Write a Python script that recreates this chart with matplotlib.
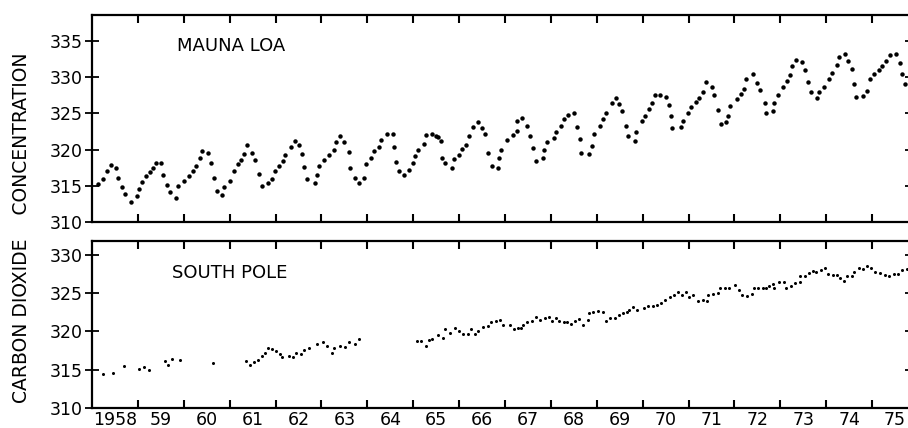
import matplotlib
matplotlib.use("Agg")
import matplotlib.pyplot as plt

plt.rcParams['font.family'] = ['DejaVu Sans']

# Mauna Loa monthly CO2 (decimal year, ppm)
ml_year = [
    1958.14, 1958.23, 1958.33, 1958.41, 1958.52, 1958.56, 1958.66, 1958.73, 1958.86, 1958.99,
    1959.02, 1959.09, 1959.17, 1959.26, 1959.34, 1959.39, 1959.50, 1959.55, 1959.63, 1959.71,
    1959.83, 1959.88, 1960.01, 1960.11, 1960.20, 1960.27, 1960.35, 1960.40, 1960.52, 1960.59,
    1960.66, 1960.72, 1960.83, 1960.88, 1961.01, 1961.09, 1961.18, 1961.25, 1961.31, 1961.38,
    1961.49, 1961.55, 1961.63, 1961.71, 1961.83, 1961.92, 1961.98, 1962.07, 1962.17, 1962.20,
    1962.33, 1962.42, 1962.51, 1962.58, 1962.63, 1962.69, 1962.85, 1962.90, 1962.95, 1963.06,
    1963.16, 1963.27, 1963.32, 1963.41, 1963.50, 1963.61, 1963.63, 1963.74, 1963.82, 1963.93,
    1963.98, 1964.07, 1964.14, 1964.26, 1964.30, 1964.43, 1964.55, 1964.59, 1964.63, 1964.69,
    1964.81, 1964.91, 1964.99, 1965.04, 1965.10, 1965.23, 1965.28, 1965.41, 1965.50, 1965.53,
    1965.60, 1965.62, 1965.69, 1965.84, 1965.88, 1965.99, 1966.07, 1966.14, 1966.22, 1966.30,
    1966.41, 1966.51, 1966.56, 1966.62, 1966.72, 1966.85, 1966.88, 1966.92, 1967.04, 1967.17,
    1967.26, 1967.27, 1967.38, 1967.48, 1967.55, 1967.61, 1967.68, 1967.82, 1967.85, 1967.92,
    1968.07, 1968.11, 1968.23, 1968.29, 1968.37, 1968.50, 1968.57, 1968.64, 1968.66, 1968.84,
    1968.89, 1968.93, 1969.06, 1969.13, 1969.21, 1969.33, 1969.41, 1969.49, 1969.54, 1969.64,
    1969.67, 1969.83, 1969.86, 1969.99, 1970.06, 1970.13, 1970.21, 1970.26, 1970.38, 1970.50,
    1970.57, 1970.61, 1970.65, 1970.83, 1970.89, 1970.99, 1971.06, 1971.16, 1971.23, 1971.32,
    1971.38, 1971.51, 1971.55, 1971.65, 1971.71, 1971.82, 1971.87, 1971.90, 1972.06, 1972.14,
    1972.20, 1972.25, 1972.40, 1972.49, 1972.56, 1972.66, 1972.68, 1972.83, 1972.86, 1972.94,
    1973.06, 1973.15, 1973.22, 1973.25, 1973.34, 1973.48, 1973.54, 1973.60, 1973.67, 1973.79,
    1973.85, 1973.96, 1974.06, 1974.13, 1974.23, 1974.28, 1974.40, 1974.48, 1974.57, 1974.61,
    1974.66, 1974.80, 1974.88, 1974.96, 1975.05, 1975.14, 1975.22, 1975.30, 1975.38, 1975.53,
    1975.60, 1975.66, 1975.72,
]
ml_co2 = [
    315.3, 316.0, 317.0, 317.9, 317.4, 316.1, 314.9, 313.9, 312.8, 313.6,
    314.6, 315.5, 316.3, 316.9, 317.5, 318.2, 318.2, 316.5, 315.1, 314.2,
    313.3, 315.0, 315.7, 316.3, 317.0, 317.7, 318.8, 319.8, 319.5, 318.1,
    316.1, 314.3, 313.7, 314.9, 315.6, 317.1, 318.0, 318.6, 319.4, 320.6,
    319.5, 318.6, 316.6, 315.0, 315.4, 316.0, 317.0, 317.8, 318.4, 319.3,
    320.4, 321.2, 320.6, 319.4, 317.6, 315.9, 315.4, 316.5, 317.7, 318.5,
    319.2, 320.0, 321.0, 321.9, 321.1, 319.7, 317.5, 316.1, 315.4, 316.1,
    318.0, 318.9, 319.8, 320.3, 321.3, 322.1, 322.2, 320.3, 318.3, 317.1,
    316.5, 317.2, 318.1, 319.1, 320.0, 320.8, 322.0, 322.2, 321.9, 321.7,
    321.2, 318.9, 318.1, 317.5, 318.7, 319.3, 320.1, 320.7, 321.9, 323.1,
    323.8, 323.0, 322.2, 319.5, 317.7, 317.4, 318.8, 320.0, 321.3, 322.0,
    322.6, 323.9, 324.4, 323.2, 321.9, 320.2, 318.4, 318.8, 320.0, 321.1,
    321.6, 322.5, 323.3, 324.2, 324.8, 325.0, 323.1, 321.4, 319.6, 319.4,
    320.5, 322.1, 323.2, 324.3, 325.1, 326.4, 327.2, 326.3, 325.3, 323.2,
    321.9, 321.2, 322.4, 323.9, 324.7, 325.6, 326.5, 327.6, 327.6, 327.3,
    326.2, 324.7, 323.0, 323.1, 324.0, 325.0, 325.9, 326.6, 327.2, 327.9,
    329.3, 328.6, 327.6, 325.5, 323.6, 323.8, 324.7, 326.0, 327.0, 327.7,
    328.4, 329.8, 330.5, 329.2, 328.3, 326.4, 325.0, 325.4, 326.4, 327.6,
    328.6, 329.5, 330.3, 331.5, 332.4, 332.1, 331.0, 329.3, 328.0, 327.1,
    328.0, 328.7, 329.7, 330.6, 331.7, 332.8, 333.2, 332.3, 331.2, 329.1,
    327.3, 327.4, 328.1, 329.8, 330.4, 331.0, 331.5, 332.3, 333.1, 333.2,
    332.0, 330.5, 329.0,
]

# South Pole CO2 (decimal year, ppm)
sp_year = [
    1958.23, 1958.46, 1958.69, 1959.02, 1959.14, 1959.24, 1959.58, 1959.65, 1959.74, 1959.91,
    1960.64, 1961.36, 1961.44, 1961.52, 1961.61, 1961.70, 1961.78, 1961.84, 1961.93, 1962.00,
    1962.10, 1962.15, 1962.29, 1962.39, 1962.45, 1962.55, 1962.61, 1962.72, 1962.91, 1963.04,
    1963.12, 1963.22, 1963.28, 1963.40, 1963.51, 1963.60, 1963.73, 1963.81,
    1965.08, 1965.18, 1965.28, 1965.35, 1965.42, 1965.54, 1965.64, 1965.69, 1965.80, 1965.92,
    1965.99, 1966.08, 1966.19, 1966.27, 1966.35, 1966.42, 1966.52, 1966.62, 1966.70, 1966.80,
    1966.89, 1966.96, 1967.10, 1967.19, 1967.28, 1967.34, 1967.40, 1967.49, 1967.59, 1967.67,
    1967.76, 1967.87, 1967.96, 1968.03, 1968.12, 1968.18, 1968.29, 1968.36, 1968.44, 1968.53,
    1968.61, 1968.69, 1968.80, 1968.83, 1968.91, 1969.03, 1969.13, 1969.20, 1969.29, 1969.39,
    1969.49, 1969.57, 1969.65, 1969.70, 1969.78, 1969.87, 1970.02, 1970.12, 1970.23, 1970.31,
    1970.41, 1970.49, 1970.60, 1970.69, 1970.78, 1970.85, 1970.94, 1971.02, 1971.09, 1971.20,
    1971.31, 1971.41, 1971.43, 1971.54, 1971.65, 1971.69, 1971.80, 1971.89, 1972.01, 1972.09,
    1972.16, 1972.27, 1972.38, 1972.43, 1972.52, 1972.62, 1972.69, 1972.76, 1972.85, 1972.86,
    1972.98, 1973.08, 1973.13, 1973.23, 1973.32, 1973.42, 1973.43, 1973.54, 1973.63, 1973.71,
    1973.78, 1973.88, 1973.98, 1974.05, 1974.14, 1974.24, 1974.30, 1974.39, 1974.45, 1974.56,
    1974.61, 1974.72, 1974.80, 1974.88, 1974.97, 1975.07, 1975.18, 1975.28, 1975.37, 1975.47,
    1975.57, 1975.66, 1975.77,
]
sp_co2 = [
    314.4, 314.6, 315.5, 315.1, 315.4, 315.0, 316.2, 315.6, 316.4, 316.3,
    315.9, 316.1, 315.6, 316.0, 316.3, 316.8, 317.2, 317.8, 317.7, 317.5,
    317.0, 316.6, 316.8, 316.7, 317.2, 317.0, 317.6, 317.8, 318.4, 318.6,
    318.1, 317.2, 317.8, 318.1, 317.9, 318.6, 318.4, 319.0,
    318.8, 318.8, 318.1, 318.9, 319.0, 319.5, 319.2, 320.3, 319.8, 320.4,
    320.0, 319.6, 319.7, 320.3, 319.6, 320.1, 320.6, 320.7, 321.2, 321.3,
    321.5, 320.8, 320.8, 320.3, 320.4, 320.5, 320.8, 321.2, 321.4, 321.9,
    321.5, 321.7, 321.9, 321.4, 321.8, 321.3, 321.2, 321.2, 321.0, 321.3,
    321.6, 320.8, 321.5, 322.4, 322.5, 322.6, 322.5, 321.4, 321.8, 321.8,
    322.2, 322.4, 322.5, 322.8, 323.2, 322.8, 323.1, 323.3, 323.3, 323.5,
    323.7, 324.1, 324.5, 324.8, 325.2, 324.8, 325.2, 324.5, 324.8, 324.0,
    324.1, 324.0, 324.7, 324.9, 325.0, 325.7, 325.6, 325.7, 326.0, 325.4,
    324.7, 324.6, 324.9, 325.6, 325.6, 325.6, 325.6, 325.9, 326.2, 325.6,
    326.5, 326.5, 325.6, 325.9, 326.3, 326.5, 327.2, 327.2, 327.6, 327.9,
    327.8, 328.0, 328.3, 327.5, 327.4, 327.3, 327.0, 326.6, 327.2, 327.2,
    327.8, 328.3, 328.2, 328.5, 328.3, 327.8, 327.6, 327.4, 327.2, 327.5,
    327.5, 328.0, 328.2,
]

years = list(range(1958, 1976))
year_labels = ["1958"] + [str(y)[2:] for y in years[1:]]
ml_yticks = [310, 315, 320, 325, 330, 335]
sp_yticks = [310, 315, 320, 325, 330]

W, H = 908, 428
fig = plt.figure(figsize=(W / 100, H / 100), dpi=100)
ax1 = fig.add_axes([92 / W, 1 - 222 / H, 820 / W, 207 / H])
ax2 = fig.add_axes([92 / W, 20 / H, 820 / W, 167 / H])

ax1.plot(ml_year, ml_co2, 'o', color='black', ms=3.2, mew=0)
ax2.plot(sp_year, sp_co2, 'o', color='black', ms=2.2, mew=0)

ax1.set_ylim(310, 338.6)
ax2.set_ylim(310, 331.8)
ax1.set_yticks(ml_yticks)
ax2.set_yticks(sp_yticks)

for ax in (ax1, ax2):
    ax.set_xlim(1958, 1975.87)
    ax.set_xticks(years[1:])
    ax.set_xticklabels([])
    ax.tick_params(axis='x', which='major', direction='in', top=True, bottom=True,
                   length=6, width=1.5)
    ax.tick_params(axis='y', direction='inout', left=True, right=True,
                   length=10, width=1.3, pad=2, labelsize=12.5)
    for s in ax.spines.values():
        s.set_linewidth(1.6)

ax2.set_xticks([y + 0.5 for y in years], minor=True)
ax2.set_xticklabels(year_labels, minor=True)
ax2.tick_params(axis='x', which='minor', length=0, pad=2, labelsize=12.5)

ax1.text(0.104, 0.85, "MAUNA LOA", transform=ax1.transAxes, fontsize=13,
         va='center', ha='left')
ax2.text(0.098, 0.808, "SOUTH POLE", transform=ax2.transAxes, fontsize=13,
         va='center', ha='left')

fig.text(22 / W, 1 - 228 / H, "CARBON DIOXIDE    CONCENTRATION", rotation=90,
         fontsize=13.5, ha='center', va='center')

fig.savefig("out.png", dpi=100)
